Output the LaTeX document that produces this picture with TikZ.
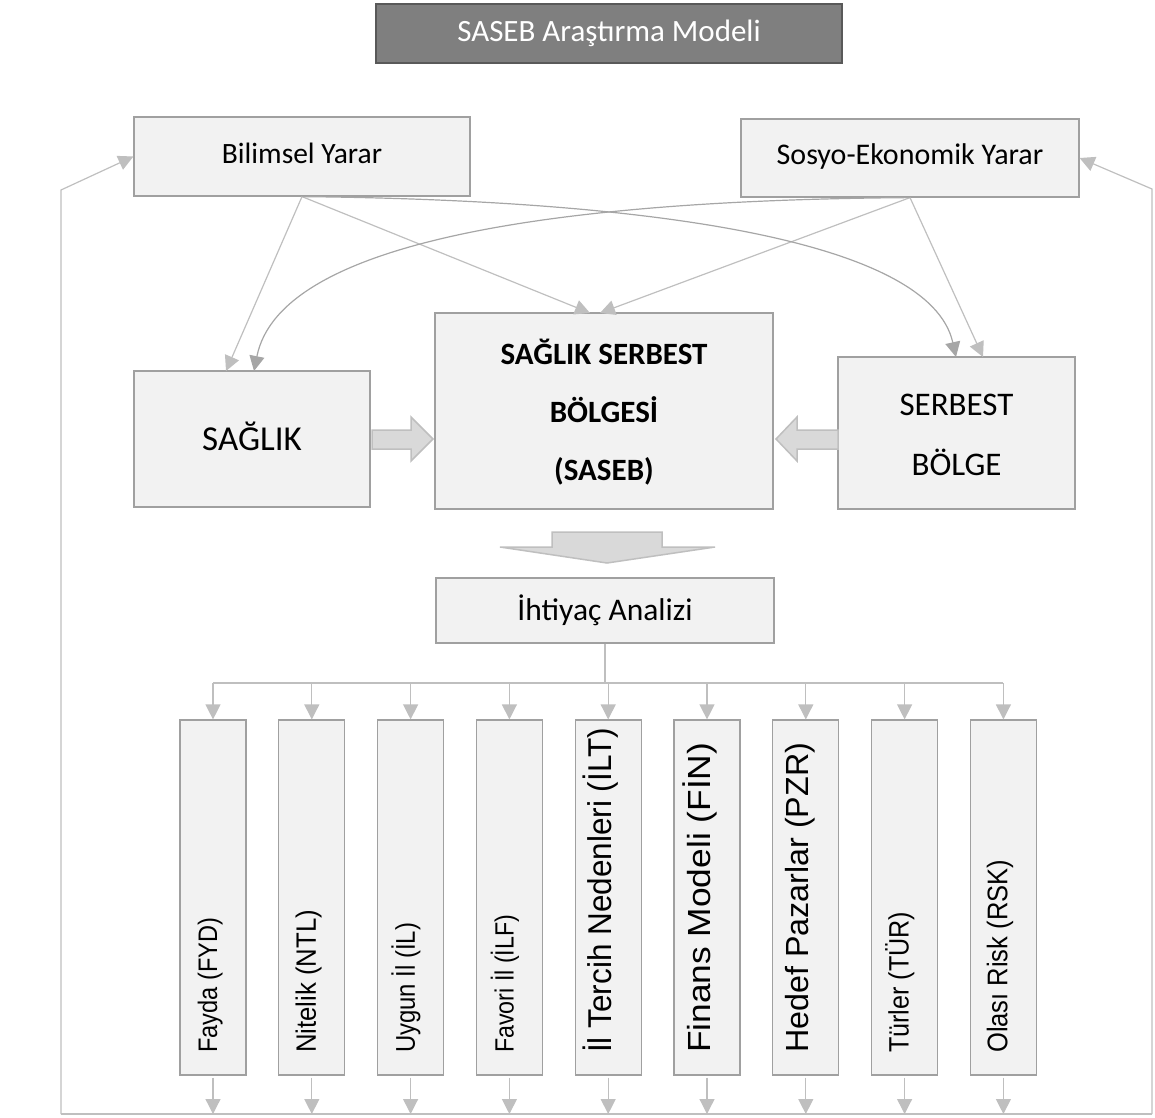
\documentclass[tikz,border=0pt]{standalone}
\usepackage{fontspec}
\setmainfont{Carlito}
\newfontfamily\arialf{Liberation Sans}
\usetikzlibrary{arrows.meta,calc}
\definecolor{boxfill}{HTML}{F2F2F2}
\definecolor{boxdraw}{HTML}{A0A0A0}
\definecolor{arrgray}{HTML}{BFBFBF}
\definecolor{curvegray}{HTML}{A6A6A6}
\definecolor{titlefill}{HTML}{7F7F7F}
\definecolor{titledraw}{HTML}{595959}
\definecolor{blockfill}{HTML}{D9D9D9}
\begin{document}
\begin{tikzpicture}[x=1pt,y=-1pt,
  box/.style={draw=boxdraw, fill=boxfill, line width=1.2pt, inner sep=0pt, text=black, align=center,
    font=\fontsize{29.5}{34}\selectfont},
  titlebox/.style={draw=titledraw, fill=titlefill, line width=2.5pt, inner sep=0pt, text=white,
    font=\fontsize{31}{36}\selectfont},
  vbox/.style={box, minimum width=66pt, minimum height=355pt},
  vtext/.style={rotate=90, anchor=south west, inner sep=0pt, font=\arialf\fontsize{24}{28}\selectfont},
  arr/.style={draw=arrgray, line width=1.2pt, -{Triangle[length=15pt,width=15pt]}},
  carr/.style={draw=curvegray, line width=1.2pt, -{Triangle[length=15pt,width=15pt]}},
  bline/.style={draw=arrgray, line width=1.2pt},
  blockarrow/.style={fill=blockfill, draw=arrgray, line width=1.5pt, line join=miter}
]
\useasboundingbox (0,0) rectangle (1155,1117);

% title
\node[titlebox, minimum width=466pt, minimum height=59pt] (title) at (609,33.5) {SASEB Araştırma Modeli};

% top boxes
\node[box, minimum width=336pt, minimum height=79pt] (bil) at (302,156.5) {\raisebox{7pt}{Bilimsel Yarar}};
\node[box, minimum width=338pt, minimum height=78pt, font=\fontsize{30}{34}\selectfont] (sos) at (910,158) {\raisebox{7pt}{Sosyo-Ekonomik Yarar}};

% middle boxes
\node[box, minimum width=236pt, minimum height=136pt, font=\fontsize{35}{40}\selectfont] (sag) at (252,439) {\raisebox{6pt}{SAĞLIK}};
\node[box, minimum width=338pt, minimum height=196pt, font=\bfseries\fontsize{31}{58}\selectfont] (saseb) at (604,411)
  {\raisebox{8pt}{\begin{tabular}{@{}c@{}}SAĞLIK SERBEST\\BÖLGESİ\\(SASEB)\end{tabular}}};
\node[box, minimum width=237pt, minimum height=152pt, font=\fontsize{33}{60}\selectfont] (ser) at (956.5,433)
  {\raisebox{9pt}{\begin{tabular}{@{}c@{}}SERBEST\\BÖLGE\end{tabular}}};

% needs analysis
\node[box, minimum width=338pt, minimum height=65pt, font=\fontsize{31.5}{36}\selectfont] (ih) at (605,610.5) {İhtiyaç Analizi};

% block arrows
\draw[blockarrow] (372,430) -- (411,430) -- (411,417) -- (433,439) -- (411,461) -- (411,449) -- (372,449) -- cycle;
\draw[blockarrow] (838,430) -- (797,430) -- (797,417) -- (776,439) -- (797,461) -- (797,449) -- (838,449) -- cycle;
\draw[blockarrow] (552,532) -- (662,532) -- (662,547) -- (715,547) -- (607,563) -- (500,547) -- (552,547) -- cycle;

% connectors from top boxes
\draw[arr] (bil.south) -- (226,371);
\draw[arr] (bil.south) -- (590,313);
\draw[arr] (sos.south) -- (600,313);
\draw[arr] (sos.south) -- (983,357);
\draw[carr] (bil.south) .. controls (650,200) and (930,240) .. (956,357);
\draw[carr] (sos.south) .. controls (560,200) and (280,240) .. (254,371);

% vertical boxes
\foreach \i/\lab/\len/\hh in {0/{Fayda (FYD)}/135/19.5, 1/{Nitelik (NTL)}/143/20.4, 2/{Uygun İl (İL)}/130/19.7,
    3/{Favori İl (İLF)}/138/19.2, 4/{İl Tercih Nedenleri (İLT)}/325/24, 5/{Finans Modeli (FİN)}/310/23.3,
    6/{Hedef Pazarlar (PZR)}/310/23.3, 7/{Türler (TÜR)}/141/20.4, 8/{Olası Risk (RSK)}/193/20.7} {
  \node[vbox] (b\i) at ({213+98.8*\i},897.5) {};
  \node[vtext] (t\i) at ($(b\i.east)+(-23.5,155.5)$)
    {\resizebox{\len pt}{\hh pt}{\raisebox{0pt}[0.728em][0.212em]{\lab}}};
}

% bus from needs analysis
\coordinate (busy) at (0,683);
\coordinate (fby) at (0,1114);
\draw[bline] (b0.north |- busy) -- (b8.north |- busy);
\draw[bline] (ih.south) -- (ih.south |- busy);
\foreach \i in {0,...,8} {
  \draw[arr] (b\i.north |- busy) -- (b\i.north);
  \draw[arr] ($(b\i.south)+(0,2)$) -- (b\i.south |- fby);
}

% feedback frame
\coordinate (fbl) at (61,1114);
\coordinate (fbr) at (1152,1114);
\coordinate (lc) at (61,190);
\coordinate (rc) at (1152,189);
\draw[bline] (fbl) -- (fbr);
\draw[arr] (fbl) -- (lc) -- (bil.west);
\draw[arr] (fbr) -- (rc) -- (sos.east);
\end{tikzpicture}
\end{document}
